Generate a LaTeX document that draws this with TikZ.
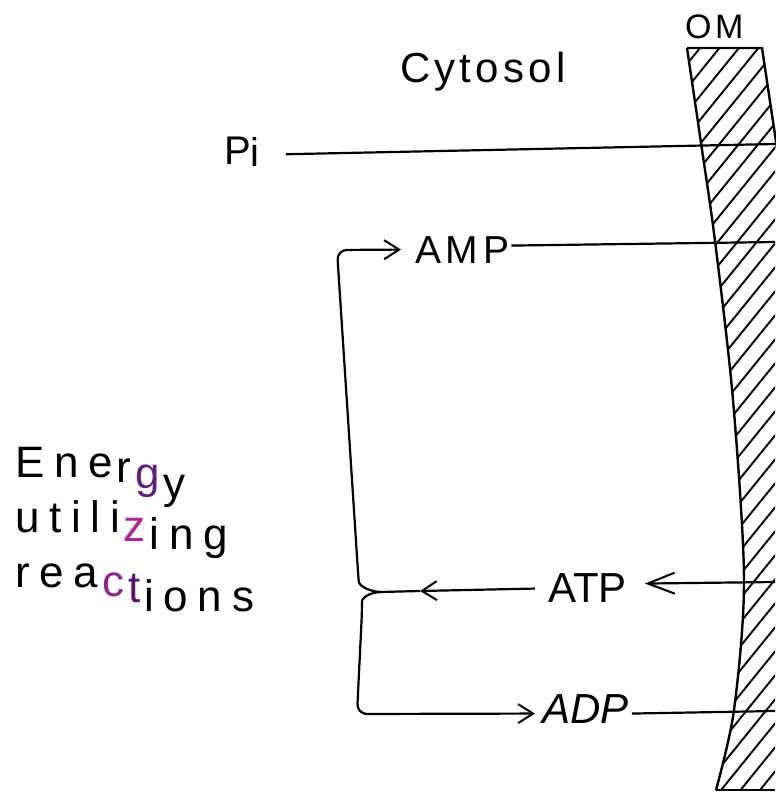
\documentclass[tikz,border=0pt]{standalone}
\usepackage{fontspec}
\setmainfont{Liberation Sans}
\usetikzlibrary{arrows.meta,calc}
\definecolor{gpurple}{RGB}{95,35,125}
\definecolor{zmag}{RGB}{175,35,150}
\definecolor{cmag}{RGB}{140,40,140}
\definecolor{tpurple}{RGB}{85,20,110}
\newcommand\lsgap{\hspace{4pt}}
\tikzset{
  lbl/.style={inner sep=0pt, anchor=base west, text=black},
  ln/.style={line width=2.2pt, black},
  arr/.style={ln, -{Straight Barb[length=15pt,width=19pt,line width=2pt]}},
  arrlong/.style={ln, -{Straight Barb[length=27pt,width=21pt,line width=2pt]}},
  memb/.style={line width=2.4pt, black},
  hatch/.style={line width=1.9pt, black},
  eword/.style={lbl, font=\fontsize{44}{52}\selectfont\addfontfeature{LetterSpace=22}},
}
\begin{document}
\begin{tikzpicture}[x=1pt,y=-1pt]
\useasboundingbox (0,0) rectangle (775,799);

% ---- membrane (OM) ----
\begin{scope}
  \clip plot[smooth] coordinates {(687,48) (701,143) (715,241) (733,400) (744,580) (734,710) (716,790)}
        -- (775,790) -- (775,135) -- (762,48) -- cycle;
  \foreach \c in {0,24,...,1030} {
    \draw[hatch] (670,\c+37) -- (790,\c-111);
  }
\end{scope}
\draw[memb] plot[smooth] coordinates {(687,48) (701,143) (715,241) (733,400) (744,580) (734,710) (716,790)};
\draw[memb] (687,48) -- (762,48) -- (778,155);
\draw[memb] (716,790) -- (775,790);

% ---- labels ----
\node[lbl, font=\fontsize{42}{50}\selectfont\addfontfeature{LetterSpace=10}] (cyto) at (400,83) {Cytosol};
\node[lbl, font=\fontsize{34}{40}\selectfont\addfontfeature{LetterSpace=10}] (om) at (685,39) {OM};
\node[lbl, font=\fontsize{40}{48}\selectfont] (pi) at (224,165) {P\raisebox{-2pt}{i}};
\node[lbl, font=\fontsize{39}{46}\selectfont\addfontfeature{LetterSpace=12}] (amp) at (415,263) {AMP};
\node[lbl, font=\fontsize{42}{50}\selectfont] (atp) at (548,602) {ATP};
\node[lbl, font=\fontsize{42}{50}\selectfont\itshape] (adp) at (542,723) {ADP};

\node[eword] (en1) at (15,477)
  {Ene\lsgap\raisebox{-5pt}{r}\lsgap\raisebox{-11pt}{\color{gpurple}g}\lsgap\raisebox{-21pt}{y}};
\node[eword] (en2) at (15,532)
  {utili\lsgap\raisebox{-9pt}{\color{zmag}z}\lsgap\raisebox{-17pt}{ing}};
\node[eword] (en3) at (15,587)
  {rea\lsgap\raisebox{-9pt}{\color{cmag}c}\lsgap\raisebox{-15pt}{\color{tpurple}t}\lsgap\raisebox{-24pt}{ions}};

% ---- free ends at the membrane ----
\coordinate (piR) at (775,144);
\coordinate (ampR) at (775,242);
\coordinate (atpR) at (775,582);
\coordinate (adpR) at (775,711);
\coordinate (J) at (380,592);
\coordinate (atpM) at (420,591);

% ---- connectors ----
\draw[ln] ($(pi.east)+(26,2)$) -- (piR);
\draw[ln] ($(amp.east)+(2,-4)$) -- (ampR);
\draw[arrlong] (atpR) -- ($(atp.east)+(18,-4)$);
\draw[ln] ($(adp.east)+(3,5)$) -- (adpR);

\draw[arr] ($(atp.west)+(-13,1)$) -- (atpM);
\draw[ln] (atpM) -- (J);

\draw[arr, rounded corners=10pt] (J) .. controls (367,591) and (359,585) .. (358,572)
   -- (337,250) -- ($(amp.west)+(-14,0)$);
\draw[arr, rounded corners=10pt] (J) .. controls (367,593) and (362,599) .. (362,611)
   -- (357,714) -- ($(adp.west)+(-7,5)$);
\end{tikzpicture}
\end{document}
